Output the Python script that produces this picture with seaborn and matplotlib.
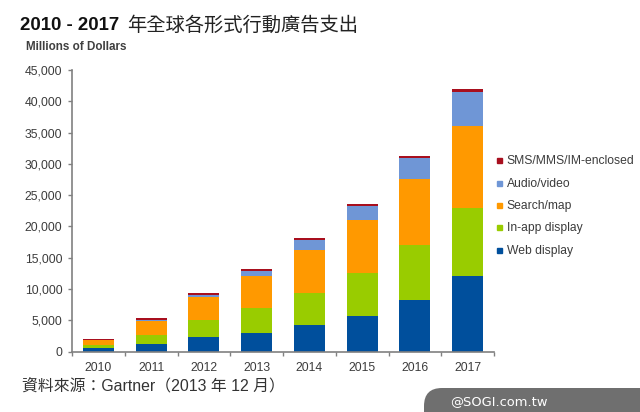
import matplotlib
matplotlib.use("Agg")
import matplotlib.pyplot as plt
from matplotlib.lines import Line2D
from matplotlib.patches import FancyBboxPatch
from matplotlib.ticker import FixedLocator, FuncFormatter
import numpy as np
import pandas as pd
import seaborn as sns

years = ["2010", "2011", "2012", "2013", "2014", "2015", "2016", "2017"]
web_display = [600, 1200, 2300, 3000, 4200, 5700, 8300, 12000]
in_app_display = [400, 1400, 2700, 3900, 5200, 6800, 8800, 11000]
search_map = [800, 2200, 3700, 5200, 6900, 8500, 10400, 13000]
audio_video = [100, 250, 400, 800, 1500, 2200, 3400, 5500]
sms = [100, 250, 200, 300, 300, 400, 300, 500]

series_names = ["Web display", "In-app display", "Search/map", "Audio/video", "SMS/MMS/IM-enclosed"]
series_values = [web_display, in_app_display, search_map, audio_video, sms]
series_colors = ["#004f9c", "#99cc00", "#ff9900", "#6f96d6", "#a80f1e"]
y_ticks = [0, 5000, 10000, 15000, 20000, 25000, 30000, 35000, 40000, 45000]

sns.set_theme(style="white")
plt.rcParams["font.family"] = ["Liberation Sans", "Noto Sans CJK TC", "DejaVu Sans"]

W, H = 640, 412
fig = plt.figure(figsize=(W / 100, H / 100), dpi=100, facecolor="white")
ax = fig.add_axes([72 / W, 1 - 351.5 / H, (494 - 72) / W, (351.5 - 70) / H])

bottom = np.zeros(len(years))
for name, vals, col in zip(series_names, series_values, series_colors):
    df = pd.DataFrame({"year": years, "value": vals})
    sns.barplot(data=df, x="year", y="value", color=col, saturation=1, width=0.59,
                bottom=bottom, ax=ax, errorbar=None, linewidth=0, zorder=2)
    bottom = bottom + np.array(vals)

ax.set_xlim(-0.5, 7.5)
ax.set_ylim(0, 45000)
ax.set_xlabel("")
ax.set_ylabel("")
ax.set_yticks(y_ticks)
ax.yaxis.set_major_formatter(FuncFormatter(lambda v, _: f"{int(v):,}"))
ax.xaxis.set_minor_locator(FixedLocator(np.arange(-0.5, 8, 1)))
ax.tick_params(axis="x", which="major", length=0, pad=7.5, labelsize=8.8, labelcolor="#3c3c3c")
ax.tick_params(axis="x", which="minor", length=3, width=1, color="#808080", bottom=True)
ax.tick_params(axis="y", which="major", length=3, width=1, color="#808080", left=True,
               pad=4, labelsize=8.8, labelcolor="#3c3c3c")
for s in ("top", "right"):
    ax.spines[s].set_visible(False)
for s in ("left", "bottom"):
    ax.spines[s].set_color("#808080")
    ax.spines[s].set_linewidth(1.2)

handles = [Line2D([], [], linestyle="none", marker="s", markersize=3.6, color=c, label=n)
           for n, c in zip(series_names, series_colors)]
fig.legend(handles=handles[::-1], loc="upper left", bbox_to_anchor=(496 / W, 1 - 155.5 / H),
           frameon=False, fontsize=8.7, labelcolor="#3c3c3c", handlelength=0.5,
           handletextpad=0.4, labelspacing=0.855, borderpad=0, borderaxespad=0)

fig.text(20 / W, 1 - 26 / H, "2010 - 2017", fontsize=13.4, fontweight="bold",
         color="#111111", va="center", ha="left")
fig.text(127 / W, 1 - 26 / H, "年全球各形式行動廣告支出", fontsize=13.9,
         color="#222222", va="center", ha="left")
fig.text(26 / W, 1 - 47.5 / H, "Millions of Dollars", fontsize=8.4, fontweight="bold",
         color="#404040", va="center", ha="left")
fig.text(22 / W, 1 - 385.5 / H, "資料來源：Gartner（2013 年 12 月）", fontsize=11.4,
         color="#333333", va="center", ha="left")

bg = fig.add_axes([0, 0, 1, 1], zorder=-1)
bg.set_xlim(0, W)
bg.set_ylim(H, 0)
bg.axis("off")
bg.add_patch(FancyBboxPatch((424 + 18, 388 + 18), 260, 40, boxstyle="round,pad=18,rounding_size=18",
                            facecolor="#6f6f6f", edgecolor="none", clip_on=True))
fig.text(450 / W, 1 - 402 / H, "@SOGI.com.tw", fontsize=9.4, color="white",
         family="DejaVu Sans", va="center", ha="left")

fig.savefig("out.png", dpi=100, facecolor="white")
